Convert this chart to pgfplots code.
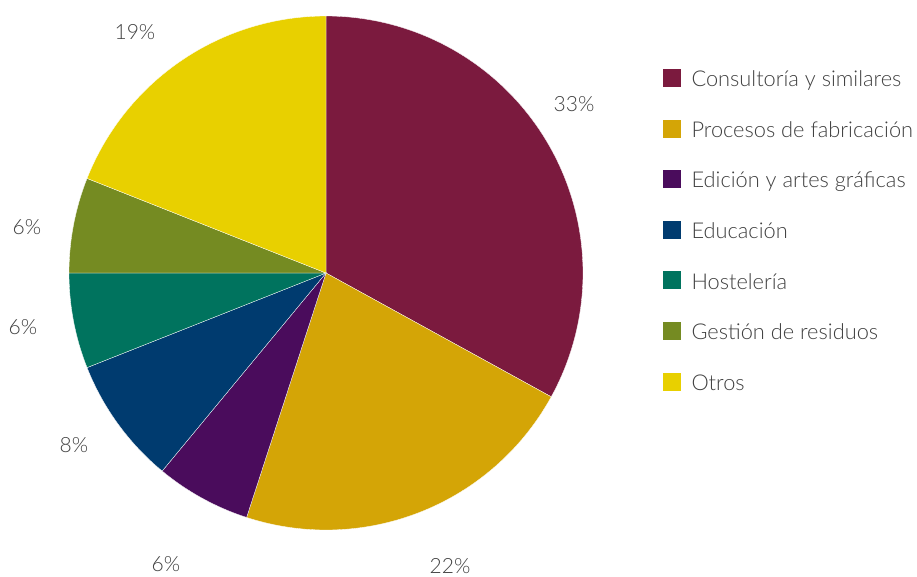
\documentclass[border=0pt]{standalone}
\usepackage{pgfplots}
\pgfplotsset{compat=1.18}
\usepackage{fontspec}
\setmainfont{Lato Light}
\definecolor{cA}{HTML}{7B1A3E}
\definecolor{cB}{HTML}{D4A506}
\definecolor{cC}{HTML}{4A0C5C}
\definecolor{cD}{HTML}{003B6F}
\definecolor{cE}{HTML}{00735E}
\definecolor{cF}{HTML}{758B22}
\definecolor{cG}{HTML}{E8D000}
\definecolor{txt}{HTML}{404040}
% data (percent)
\def\vA{33}\def\vB{22}\def\vC{6}\def\vD{8}\def\vE{6}\def\vF{6}\def\vG{19}
\pgfmathsetmacro\aA{90}
\pgfmathsetmacro\aB{\aA-3.6*\vA}
\pgfmathsetmacro\aC{\aB-3.6*\vB}
\pgfmathsetmacro\aD{\aC-3.6*\vC}
\pgfmathsetmacro\aE{\aD-3.6*\vD}
\pgfmathsetmacro\aF{\aE-3.6*\vE}
\pgfmathsetmacro\aG{\aF-3.6*\vF}
\pgfmathsetmacro\aH{\aG-3.6*\vG}
\pgfplotsset{legend image code/.code={\fill[#1] (0pt,-5pt) rectangle (19pt,14pt);}}
\begin{document}
\begin{tikzpicture}
\begin{axis}[
  scale only axis, width=917pt, height=576pt,
  xmin=0, xmax=917, ymin=0, ymax=576, y dir=reverse,
  hide axis, clip=false,
  legend style={draw=none, fill=none, at={(axis cs:662,68)}, anchor=north west,
    inner sep=0pt, row sep=26.9pt, text=txt,
    font=\fontsize{21.8}{25}\selectfont,
    nodes={inner sep=0pt, text height=14pt, text depth=5pt},
    /tikz/every odd column/.style={column sep=10pt}},
  legend cell align=left,
]
\path (axis cs:0,0) rectangle (axis cs:917,576);
\addplot[fill=cA, draw=white, line width=0.3pt, domain=\aB:\aA, samples=90, variable=\t] ({326+257*cos(t)},{273-257*sin(t)}) -- (axis cs:326,273) -- cycle;
\addlegendentry{Consultoría y similares}
\addplot[fill=cB, draw=white, line width=0.3pt, domain=\aC:\aB, samples=60, variable=\t] ({326+257*cos(t)},{273-257*sin(t)}) -- (axis cs:326,273) -- cycle;
\addlegendentry{Procesos de fabricación}
\addplot[fill=cC, draw=white, line width=0.3pt, domain=\aD:\aC, samples=20, variable=\t] ({326+257*cos(t)},{273-257*sin(t)}) -- (axis cs:326,273) -- cycle;
\addlegendentry{Edición y artes gráficas}
\addplot[fill=cD, draw=white, line width=0.3pt, domain=\aE:\aD, samples=25, variable=\t] ({326+257*cos(t)},{273-257*sin(t)}) -- (axis cs:326,273) -- cycle;
\addlegendentry{Educación}
\addplot[fill=cE, draw=white, line width=0.3pt, domain=\aF:\aE, samples=20, variable=\t] ({326+257*cos(t)},{273-257*sin(t)}) -- (axis cs:326,273) -- cycle;
\addlegendentry{Hostelería}
\addplot[fill=cF, draw=white, line width=0.3pt, domain=\aG:\aF, samples=20, variable=\t] ({326+257*cos(t)},{273-257*sin(t)}) -- (axis cs:326,273) -- cycle;
\addlegendentry{Gestión de residuos}
\addplot[fill=cG, draw=white, line width=0.3pt, domain=\aH:\aG, samples=60, variable=\t] ({326+257*cos(t)},{273-257*sin(t)}) -- (axis cs:326,273) -- cycle;
\addlegendentry{Otros}
\begin{scope}[every node/.style={text=txt, font=\fontsize{21}{25}\selectfont, inner sep=0pt}]
\node at (axis cs:574,104) {33\%};
\node at (axis cs:450,566) {22\%};
\node at (axis cs:166,564) {6\%};
\node at (axis cs:74,445) {8\%};
\node at (axis cs:23,327) {6\%};
\node at (axis cs:27,227) {6\%};
\node at (axis cs:135,32) {19\%};
\end{scope}
\end{axis}
\end{tikzpicture}
\end{document}
